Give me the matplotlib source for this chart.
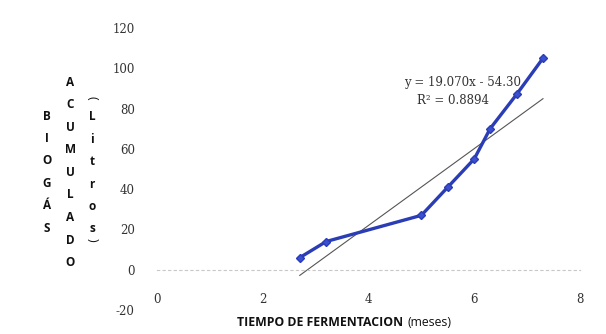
import matplotlib.pyplot as plt
import numpy as np

plt.rcParams['axes.unicode_minus'] = False

# biogas accumulated vs fermentation time
meses = [2.7, 3.2, 5.0, 5.5, 6.0, 6.3, 6.8, 7.3]
litros = [6, 14, 27, 41, 55, 70, 87, 105]

# linear trend as reported
pendiente = 19.070
intercepto = -54.30
r2 = 0.8894

xticks = [0, 2, 4, 6, 8]
yticks = [-20, 0, 20, 40, 60, 80, 100, 120]

fig = plt.figure(figsize=(6.06, 3.34), dpi=100, facecolor='white')
ax = fig.add_axes([157/606, 24/334, 423/606, 282/334])
ax.set_xlim(0, 8)
ax.set_ylim(-20, 120)

# trendline over the data range
xt = np.array([min(meses), max(meses)])
ax.plot(xt, pendiente*xt + intercepto, color='#555555', lw=0.8, zorder=2)

ax.plot(meses, litros, color='#2b3db5', lw=2.4, marker='D', ms=4.5,
        mec='#2b3db5', mfc='#3a50d0', zorder=3)

for s in ['top', 'right', 'left']:
    ax.spines[s].set_visible(False)
ax.spines['bottom'].set_position(('data', 0))
ax.spines['bottom'].set_color('#c8c8c8')
ax.spines['bottom'].set_linestyle((0, (2, 3)))
ax.spines['bottom'].set_linewidth(0.8)

ax.set_xticks(xticks)
ax.set_yticks(yticks)
ax.tick_params(axis='both', length=0, labelsize=8.5, labelcolor='#333333')
ax.tick_params(axis='x', pad=17)
ax.tick_params(axis='y', pad=16)
for lb in ax.get_xticklabels() + ax.get_yticklabels():
    lb.set_family('DejaVu Serif')

ax.text(5.77, 92.8, 'y = %.3fx - %.2f' % (pendiente, -intercepto), ha='center',
        va='center', fontsize=8.5, family='DejaVu Serif', color='#333333', zorder=1)
ax.text(5.6, 84, 'R² = %.4f' % r2, ha='center', va='center',
        fontsize=8.5, family='DejaVu Serif', color='#333333', zorder=1)

# x axis title: bold part then "(meses)" right after it
t1 = fig.text(237/606, 1 - 323/334, 'TIEMPO DE FERMENTACION', fontsize=8.8,
              fontweight='bold', family='Open Sans', va='center', ha='left', color='#111111')
fig.canvas.draw()
bb = t1.get_window_extent()
fig.text((bb.x1 + 4)/606, 1 - 323/334, '(meses)', fontsize=8.8, family='Open Sans',
         va='center', ha='left', color='#111111')

# y axis title as stacked letters
def columna(palabra, x, y0, paso):
    for i, c in enumerate(palabra):
        fig.text(x/606, 1 - (y0 + i*paso)/334, c, fontsize=8.5, fontweight='bold',
                 family='Open Sans', ha='center', va='center', color='#111111')

columna('BIOGÁS', 47, 116, 22.4)
columna('ACUMULADO', 70, 82, 22.6)
columna('Litros', 92, 117, 22.4)
fig.text(92/606, 1 - 98/334, '(', rotation=-90, fontsize=9, family='Open Sans',
         ha='center', va='center', color='#111111')
fig.text(92/606, 1 - 240/334, ')', rotation=-90, fontsize=9, family='Open Sans',
         ha='center', va='center', color='#111111')

fig.savefig('out.png', dpi=100, facecolor='white')
